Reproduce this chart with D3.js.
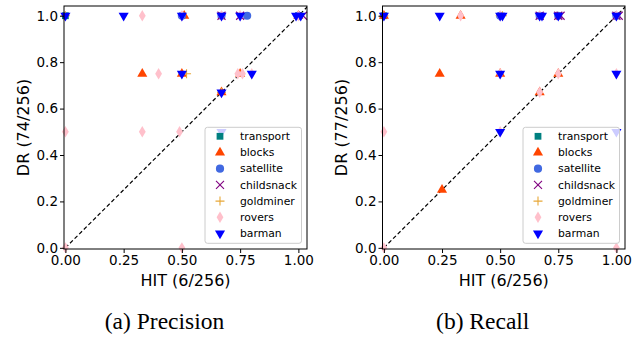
<!DOCTYPE html>
<html>
<head>
<meta charset="utf-8">
<script src="https://cdn.jsdelivr.net/npm/d3@7"></script>
<style>
  body { margin: 0; background: #fff; }
  svg text { font-family: "DejaVu Sans", sans-serif; fill: #000; }
  .caption { font-family: "Liberation Serif", "Times New Roman", serif; }
</style>
</head>
<body>
<svg id="chart" width="643" height="339"></svg>
<script>
// domains drawn in this order (later ones on top)
const domains = ['transport', 'blocks', 'satellite', 'childsnack', 'goldminer', 'rovers', 'barman'];
const xTicks = [0, 0.25, 0.5, 0.75, 1.0];
const yTicks = [0, 0.2, 0.4, 0.6, 0.8, 1.0];

// (a) Precision: [HIT, DR] per problem
const precTransport = [[0, 1], [1, 1]];
const precBlocks = [[0.33, 0.75], [0.5, 0.75], [0.51, 1], [0.67, 0.67], [1, 1], [0.75, 0.75]];
const precSatellite = [[0.5, 1], [0.67, 1], [0.78, 1], [1, 1]];
const precChildsnack = [[0.67, 1], [0.75, 1], [1.02, 1]];
const precGoldminer = [[0, 1], [0.52, 0.75], [0.67, 0.67]];
const precRovers = [[0.33, 1], [0.5, 1], [0.67, 1], [0.75, 1], [1, 1], [0.4, 0.75], [0.74, 0.75],
  [0.76, 0.75], [0.8, 0.75], [0, 0.5], [0.33, 0.5], [0.49, 0.5], [0, 0], [0.5, 0]];
const precBarman = [[0, 1], [0.25, 1], [0.5, 1], [0.67, 1], [0.75, 1], [0.99, 1], [1.01, 1],
  [0.5, 0.75], [0.8, 0.75], [0.67, 0.67], [0.67, 0.5]];

// (b) Recall
const recTransport = [[0, 1], [1, 1]];
const recBlocks = [[0, 1], [0.24, 0.75], [0.25, 0.25], [0.33, 1], [0.5, 0.75], [0.67, 0.67], [0.75, 0.75]];
const recSatellite = [[0.5, 1], [0.67, 1], [0.75, 1], [1, 1]];
const recChildsnack = [[0.67, 1], [0.75, 1], [0.76, 1], [1, 1], [1.01, 1]];
const recGoldminer = [[0, 1], [0.5, 1], [0.51, 1]];
const recRovers = [[0.33, 1], [0.5, 1], [0.67, 1], [1, 1], [0.5, 0.75], [0.75, 0.75], [1, 0.75],
  [0.67, 0.67], [0.5, 0.5], [0, 0.5], [0, 0], [1, 0]];
const recBarman = [[0, 1], [0.24, 1], [0.5, 1], [0.51, 1], [0.67, 1], [0.68, 1], [0.75, 1], [1, 1],
  [0.5, 0.75], [1, 0.75], [0.5, 0.5], [1, 0.5]];

const colors = {
  transport: '#008080', blocks: '#ff4500', satellite: '#4169e1', childsnack: '#800080',
  goldminer: '#e8a838', rovers: '#ffc0cb', barman: '#0000ff'
};

const panels = [
  { left: 64, right: 307, ylabel: 'DR (74/256)', caption: '(a) Precision',
    series: [precTransport, precBlocks, precSatellite, precChildsnack, precGoldminer, precRovers, precBarman] },
  { left: 382.5, right: 625, ylabel: 'DR (77/256)', caption: '(b) Recall',
    series: [recTransport, recBlocks, recSatellite, recChildsnack, recGoldminer, recRovers, recBarman] }
];

const plotTop = 6, plotBottom = 249;
const svg = d3.select('#chart');

function drawMarker(g, name) {
  const c = colors[name];
  if (name === 'transport') {
    g.append('path').attr('d', d3.symbol(d3.symbolSquare, 46)()).attr('fill', c);
  } else if (name === 'blocks') {
    g.append('path').attr('d', d3.symbol(d3.symbolTriangle, 44)()).attr('fill', c);
  } else if (name === 'satellite') {
    g.append('circle').attr('r', 4.1).attr('fill', c);
  } else if (name === 'childsnack') {
    g.append('path').attr('d', 'M-4,-4L4,4M-4,4L4,-4').attr('stroke', c).attr('stroke-width', 1.1).attr('fill', 'none');
  } else if (name === 'goldminer') {
    g.append('path').attr('d', 'M-4.5,0L4.5,0M0,-4.5L0,4.5').attr('stroke', c).attr('stroke-width', 1.1).attr('fill', 'none');
  } else if (name === 'rovers') {
    g.append('path').attr('d', 'M0,-5.7L3.4,0L0,5.7L-3.4,0Z').attr('fill', c);
  } else if (name === 'barman') {
    g.append('path').attr('d', d3.symbol(d3.symbolTriangle, 44)()).attr('transform', 'rotate(180)').attr('fill', c);
  }
}

panels.forEach(p => {
  const x = d3.scaleLinear().domain([-0.006, 1.037]).range([p.left, p.right]);
  const y = d3.scaleLinear().domain([-0.005, 1.042]).range([plotBottom, plotTop]);
  const g = svg.append('g');
  const clipId = 'clip' + Math.round(p.left);
  svg.append('clipPath').attr('id', clipId).append('rect')
    .attr('x', p.left).attr('y', plotTop).attr('width', p.right - p.left).attr('height', plotBottom - plotTop);

  // diagonal
  g.append('line')
    .attr('clip-path', `url(#${clipId})`)
    .attr('x1', x(0)).attr('y1', y(0)).attr('x2', x(1.05)).attr('y2', y(1.05))
    .attr('stroke', '#000').attr('stroke-width', 1.2).attr('stroke-dasharray', '4,2.5');

  // points
  p.series.forEach((pts, i) => {
    const name = domains[i];
    pts.forEach(d => {
      const m = g.append('g').attr('transform', `translate(${x(d[0])},${y(d[1])})`);
      drawMarker(m, name);
    });
  });

  // axes
  const xAxis = d3.axisBottom(x).tickValues(xTicks).tickFormat(d3.format('.2f')).tickSizeOuter(0).tickSize(4).tickPadding(2);
  const yAxis = d3.axisLeft(y).tickValues(yTicks).tickFormat(d3.format('.1f')).tickSizeOuter(0).tickSize(4).tickPadding(2);
  const gx = g.append('g').attr('transform', `translate(0,${plotBottom})`).call(xAxis);
  const gy = g.append('g').attr('transform', `translate(${p.left},0)`).call(yAxis);
  [gx, gy].forEach(a => {
    a.select('.domain').remove();
    a.selectAll('text').attr('font-size', '13.5px').attr('font-family', 'DejaVu Sans').attr('fill', '#000');
    a.selectAll('line').attr('stroke', '#000');
  });
  g.append('rect')
    .attr('x', p.left).attr('y', plotTop).attr('width', p.right - p.left).attr('height', plotBottom - plotTop)
    .attr('fill', 'none').attr('stroke', '#000').attr('stroke-width', 1);

  // axis labels
  const cx = (p.left + p.right) / 2;
  g.append('text').attr('x', cx).attr('y', 286).attr('text-anchor', 'middle')
    .attr('font-size', '16px').text('HIT (6/256)');
  g.append('text').attr('transform', `translate(${p.left - 41},${(plotTop + plotBottom) / 2}) rotate(-90)`)
    .attr('text-anchor', 'middle').attr('dy', '0.35em').attr('font-size', '16px').text(p.ylabel);

  // caption
  g.append('text').attr('class', 'caption').attr('x', cx - 21).attr('y', 329).attr('text-anchor', 'middle')
    .attr('font-size', '23.5px').text(p.caption);

  // legend
  const lw = 96.5, lh = 116;
  const lx = p.right - 5.5 - lw, ly = plotBottom - 5.7 - lh;
  const leg = g.append('g').attr('transform', `translate(${lx},${ly})`);
  leg.append('rect').attr('width', lw).attr('height', lh).attr('rx', 2.5)
    .attr('fill', '#fff').attr('fill-opacity', 0.8).attr('stroke', '#cccccc').attr('stroke-width', 1);
  domains.forEach((name, i) => {
    const ry = 9 + i * 16.2;
    const m = leg.append('g').attr('transform', `translate(15,${ry})`);
    drawMarker(m, name);
    leg.append('text').attr('x', 35).attr('y', ry).attr('dy', '0.35em')
      .attr('font-size', '10.8px').text(name);
  });
});
</script>
</body>
</html>
